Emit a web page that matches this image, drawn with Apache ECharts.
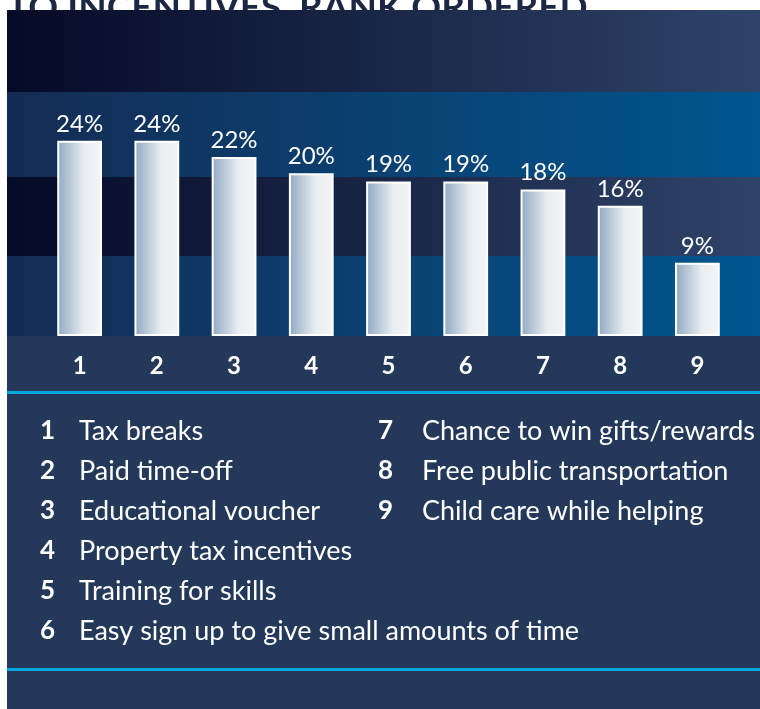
<!DOCTYPE html>
<html>
<head>
<meta charset="utf-8">
<script src="https://cdn.jsdelivr.net/npm/echarts@6/dist/echarts.min.js"></script>
<style>
html,body{margin:0;padding:0;background:#ffffff;}
#chart{width:760px;height:709px;}
</style>
</head>
<body>
<div id="chart"></div>
<script>
// ---- data ----
const categories = ['1', '2', '3', '4', '5', '6', '7', '8', '9'];
const values = [24, 24, 22, 20, 19, 19, 18, 16, 9];
const itemNames = [
  'Tax breaks',
  'Paid time-off',
  'Educational voucher',
  'Property tax incentives',
  'Training for skills',
  'Easy sign up to give small amounts of time',
  'Chance to win gifts/rewards',
  'Free public transportation',
  'Child care while helping'
];
const titleText = 'TO INCENTIVES, RANK ORDERED';

// ---- styles ----
const FONT = 'Lato';
const W = 760;
function hGrad(a, b) {
  return new echarts.graphic.LinearGradient(0, 0, 1, 0, [
    { offset: 0, color: a }, { offset: 1, color: b }
  ]);
}
const darkGrad = () => hGrad('#050a26', '#2f4369');
const lightGrad = () => hGrad('#142c54', '#00568f');

const graphics = [];
// cut-off title
graphics.push({
  type: 'text', z: 0,
  style: { text: titleText, x: 7, y: 8, fill: '#1c2744', font: 'bold 37px ' + FONT,
           verticalAlign: 'middle', textVerticalAlign: 'middle' }
});
// panels
graphics.push({ type: 'rect', z: 1, shape: { x: 7, y: 10, width: W - 7, height: 82 }, style: { fill: darkGrad() } });
graphics.push({ type: 'rect', z: 1, shape: { x: 7, y: 92, width: W - 7, height: 85 }, style: { fill: lightGrad() } });
graphics.push({ type: 'rect', z: 1, shape: { x: 7, y: 177, width: W - 7, height: 79 }, style: { fill: darkGrad() } });
graphics.push({ type: 'rect', z: 1, shape: { x: 7, y: 256, width: W - 7, height: 80 }, style: { fill: lightGrad() } });
graphics.push({ type: 'rect', z: 1, shape: { x: 7, y: 336, width: W - 7, height: 373 }, style: { fill: '#243859' } });
graphics.push({ type: 'rect', z: 1, shape: { x: 7, y: 391, width: W - 7, height: 3 }, style: { fill: '#00a6e2' } });
graphics.push({ type: 'rect', z: 1, shape: { x: 7, y: 668, width: W - 7, height: 3 }, style: { fill: '#00a6e2' } });

// legend text list
itemNames.forEach(function (name, i) {
  const col = i < 6 ? 0 : 1;
  const row = i < 6 ? i : i - 6;
  const yC = 431 + row * 40;
  const numX = col === 0 ? 40 : 378;
  const txtX = col === 0 ? 79 : 422;
  graphics.push({ type: 'text', z: 3, style: { text: categories[i], x: numX, y: yC, fill: '#ffffff',
    font: 'bold 26px ' + FONT, verticalAlign: 'middle', textVerticalAlign: 'middle' } });
  graphics.push({ type: 'text', z: 3, style: { text: name, x: txtX, y: yC, fill: '#ffffff',
    font: '27px ' + FONT, verticalAlign: 'middle', textVerticalAlign: 'middle' } });
});

const chart = echarts.init(document.getElementById('chart'), null, { renderer: 'canvas' });
chart.setOption({
  backgroundColor: '#ffffff',
  animation: false,
  graphic: graphics,
  grid: { left: 41, right: 24, top: 92, bottom: 709 - 336, containLabel: false },
  xAxis: {
    type: 'category', data: categories, z: 10,
    axisLine: { show: false }, axisTick: { show: false }, splitLine: { show: false },
    axisLabel: { color: '#ffffff', fontFamily: FONT, fontWeight: 'bold', fontSize: 24, margin: 18 }
  },
  yAxis: { type: 'value', min: 0, max: 30, show: false, splitLine: { show: false } },
  series: [{
    type: 'bar', data: values, barWidth: '58%', z: 5,
    itemStyle: {
      color: new echarts.graphic.LinearGradient(0, 0, 1, 0, [
        { offset: 0, color: '#8fa8c2' },
        { offset: 0.6, color: '#e9eef2' },
        { offset: 1, color: '#f3f5f6' }
      ]),
      borderColor: '#ffffff', borderWidth: 2
    },
    label: { show: true, position: 'top', distance: 5, formatter: '{c}%', color: '#ffffff',
             fontFamily: FONT, fontSize: 24 }
  }]
});
</script>
</body>
</html>
